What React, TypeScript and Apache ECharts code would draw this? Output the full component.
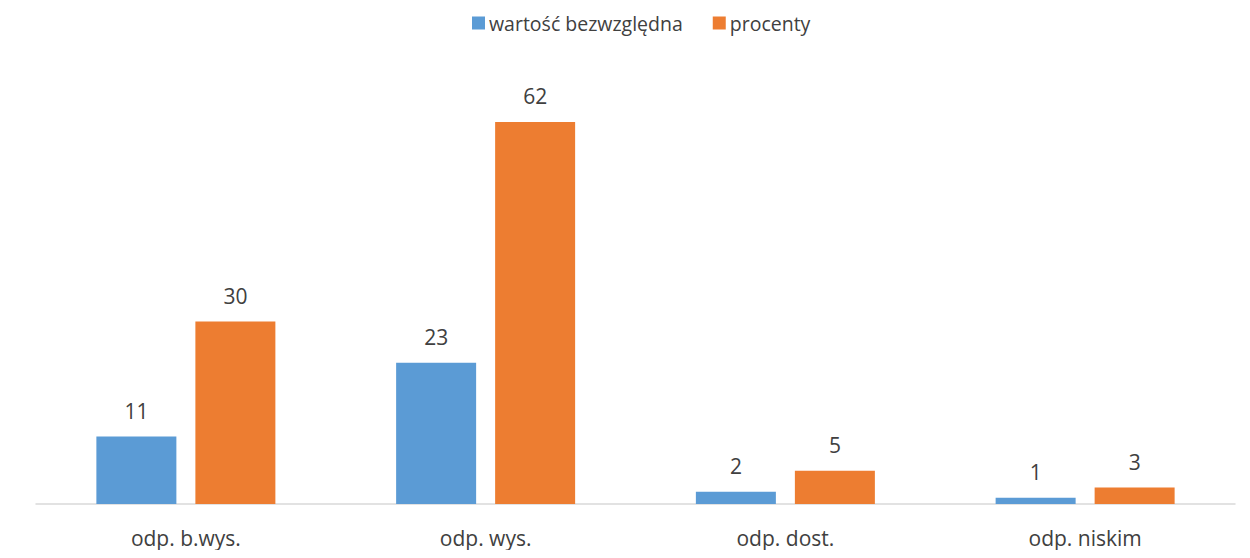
import React, { useEffect, useRef } from "react";
import * as echarts from "echarts";

const categories = ["odp. b.wys.", "odp. wys.", "odp. dost.", "odp. niskim"];
const absoluteValues = [11, 23, 2, 1];
const percentValues = [29.7, 62.2, 5.4, 2.7];
const seriesNames = ["wartość bezwzględna", "procenty"];

export default function App() {
  const ref = useRef<HTMLDivElement>(null);
  useEffect(() => {
    if (!ref.current) return;
    const chart = echarts.init(ref.current, undefined, { renderer: "svg" });
    const font = "'Open Sans', 'Liberation Sans', sans-serif";
    const label = {
      show: true,
      position: "top",
      distance: 15,
      color: "#404040",
      fontSize: 21,
      fontFamily: font,
      formatter: (p: any) => String(Math.round(p.value)),
    };
    chart.setOption({
      animation: false,
      textStyle: { fontFamily: font },
      legend: {
        top: 13,
        left: 472,
        padding: 0,
        itemWidth: 13,
        itemHeight: 13,
        itemGap: 30,
        icon: "rect",
        textStyle: { color: "#404040", fontSize: 19.5, fontFamily: font, padding: [0, 0, 0, -1] },
        data: seriesNames,
      },
      grid: { left: 36, right: 15, top: 74, bottom: 54 },
      xAxis: {
        type: "category",
        data: categories,
        axisLine: { lineStyle: { color: "#d9d9d9", width: 1.5 } },
        axisTick: { show: false },
        axisLabel: { color: "#404040", fontSize: 21, fontFamily: font, margin: 23 },
      },
      yAxis: {
        type: "value",
        min: 0,
        max: 70,
        show: false,
        splitLine: { show: false },
      },
      series: [
        {
          name: seriesNames[0],
          type: "bar",
          data: absoluteValues,
          barWidth: 80,
          barGap: "23.75%",
          itemStyle: { color: "#5B9BD5" },
          label,
        },
        {
          name: seriesNames[1],
          type: "bar",
          data: percentValues,
          barWidth: 80,
          itemStyle: { color: "#ED7D31" },
          label,
        },
      ],
    });
    return () => chart.dispose();
  }, []);
  return <div ref={ref} style={{ width: 1250, height: 558, margin: -8 }} />;
}
